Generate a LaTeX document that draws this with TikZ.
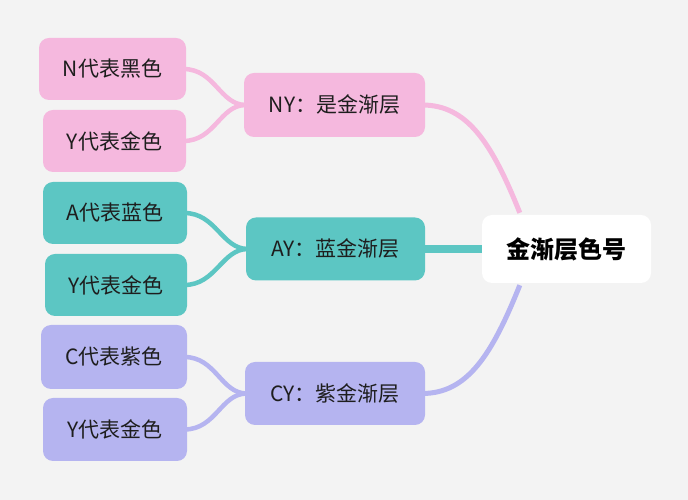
\documentclass[tikz,border=0pt]{standalone}
\usepackage{fontspec}
\setmainfont{Noto Sans CJK SC}
\usetikzlibrary{calc,backgrounds}
\definecolor{bg}{HTML}{F3F3F3}
\definecolor{pinkf}{HTML}{F5B8DE}
\definecolor{tealf}{HTML}{5CC6C3}
\definecolor{purf}{HTML}{B5B4F0}
\definecolor{txt}{HTML}{1E1E1E}
\tikzset{
  box/.style={rounded corners=10pt, minimum height=62pt, text=txt, inner sep=0pt,
    font=\fontsize{21}{25}\selectfont},
  leafpink/.style={box, fill=pinkf},
  leafteal/.style={box, fill=tealf},
  leafpur/.style={box, fill=purf},
  rootbox/.style={rounded corners=10pt, fill=white, minimum width=169pt, minimum height=68pt,
    text=black, font=\fontsize{24}{28}\selectfont\bfseries},
  pinkline/.style={draw=pinkf, line width=4.5pt},
  tealline/.style={draw=tealf, line width=4.5pt},
  purline/.style={draw=purf, line width=4.5pt},
}
\begin{document}
\begin{tikzpicture}[x=1pt,y=1pt]
\useasboundingbox (0,0) rectangle (688,500);
% nodes
\node[leafpink, minimum width=147pt] (n1) at (112.5,431) {N代表黑色};
\node[leafpink, minimum width=143pt] (n2) at (114.5,359) {Y代表金色};
\node[leafpink, minimum width=181pt, minimum height=64pt] (ny) at (334.5,395) {NY：是金渐层};
\node[leafteal, minimum width=144pt] (a1) at (115,287) {A代表蓝色};
\node[leafteal, minimum width=142pt] (a2) at (116,215) {Y代表金色};
\node[leafteal, minimum width=179pt, minimum height=63pt] (ay) at (335.5,251) {AY：蓝金渐层};
\node[leafpur, minimum width=146pt, minimum height=64pt] (c1) at (114,143) {C代表紫色};
\node[leafpur, minimum width=144pt, minimum height=63pt] (c2) at (115,70.5) {Y代表金色};
\node[leafpur, minimum width=180pt, minimum height=63pt] (cy) at (335,106.5) {CY：紫金渐层};
\node[rootbox] (root) at (566.5,251) {金渐层色号};
\coordinate (rt) at ($(root.north west)+(38,2)$);
\coordinate (rb) at ($(root.south west)+(38,-2)$);
% connectors behind nodes
\begin{pgfonlayer}{background}
\fill[bg] (0,0) rectangle (688,500);
\draw[pinkline] ([xshift=-3pt]n1.east) .. controls +(32,0) and +(-26,0) .. ([xshift=2pt]ny.west);
\draw[pinkline] ([xshift=-3pt]n2.east) .. controls +(32,0) and +(-26,0) .. ([xshift=2pt]ny.west);
\draw[tealline] ([xshift=-3pt]a1.east) .. controls +(32,0) and +(-26,0) .. ([xshift=2pt]ay.west);
\draw[tealline] ([xshift=-3pt]a2.east) .. controls +(32,0) and +(-26,0) .. ([xshift=2pt]ay.west);
\draw[purline] ([xshift=-3pt]c1.east) .. controls +(32,0) and +(-26,0) .. ([xshift=2pt]cy.west);
\draw[purline] ([xshift=-3pt]c2.east) .. controls +(32,0) and +(-26,0) .. ([xshift=2pt]cy.west);
\draw[pinkline, line width=5pt] ([xshift=-3pt]ny.east) .. controls +(45,0) and +(-28,70) .. (rt);
\draw[purline, line width=5pt] ([xshift=-3pt]cy.east) .. controls +(45,0) and +(-28,-70) .. (rb);
\draw[tealline, line width=8pt] ([xshift=-3pt]ay.east) -- ([xshift=3pt]root.west);
\end{pgfonlayer}
\end{tikzpicture}
\end{document}
